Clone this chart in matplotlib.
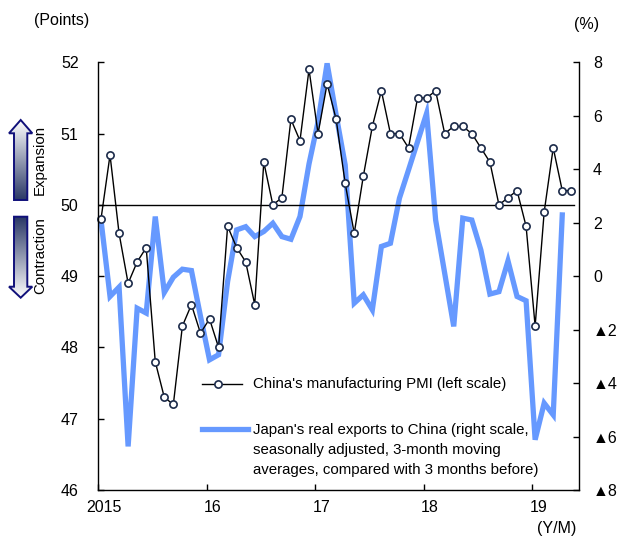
import matplotlib
matplotlib.use('Agg')
import matplotlib.pyplot as plt
import numpy as np
from matplotlib.patches import Polygon
from matplotlib.lines import Line2D
from matplotlib.colors import LinearSegmentedColormap

plt.rcParams['font.family'] = ['Liberation Sans', 'DejaVu Sans']

# ---- data (monthly, Jan 2015 onward) ----
year_labels = ["2015", "16", "17", "18", "19"]
pmi = [49.8, 50.7, 49.6, 48.9, 49.2, 49.4, 47.8, 47.3, 47.2, 48.3, 48.6, 48.2,
       48.4, 48.0, 49.7, 49.4, 49.2, 48.6, 50.6, 50.0, 50.1, 51.2, 50.9, 51.9,
       51.0, 51.7, 51.2, 50.3, 49.6, 50.4, 51.1, 51.6, 51.0, 51.0, 50.8, 51.5,
       51.5, 51.6, 51.0, 51.1, 51.1, 51.0, 50.8, 50.6, 50.0, 50.1, 50.2, 49.7,
       48.3, 49.9, 50.8, 50.2, 50.2]
exports = [2.1, -0.76, -0.41, -6.37, -1.2, -1.38, 2.23, -0.61, -0.04, 0.26, 0.21, -1.5,
           -3.13, -2.94, -0.2, 1.73, 1.85, 1.48, 1.67, 1.98, 1.48, 1.38, 2.23, 4.2,
           5.78, 7.96, 6.03, 4.16, -1.01, -0.7, -1.26, 1.11, 1.23, 2.92, 3.97, 5.03,
           6.09, 2.1, 0.11, -1.88, 2.17, 2.1, 0.98, -0.67, -0.58, 0.57, -0.76, -0.92,
           -6.12, -4.75, -5.19, 2.29]
left_ticks = [46, 47, 48, 49, 50, 51, 52]
right_ticks = [-8, -6, -4, -2, 0, 2, 4, 6, 8]
right_labels = ["▲8", "▲6", "▲4", "▲2", "0", "2", "4", "6", "8"]
pmi_label = "China's manufacturing PMI (left scale)"
exp_label_lines = ["Japan's real exports to China (right scale,",
                   "seasonally adjusted, 3-month moving",
                   "averages, compared with 3 months before)"]

BLUE = '#6699ff'
NAVY = '#1c2b4a'
W, H = 622, 538
FS_TICK = 11.5
FS_TXT = 10.8

fig = plt.figure(figsize=(W / 100, H / 100), dpi=100)
L, R, T, B = 98, 579, 62.3, 490
ax1 = fig.add_axes([L / W, 1 - B / H, (R - L) / W, (B - T) / H])
ax2 = ax1.twinx()
ax1.set_zorder(2)
ax1.patch.set_visible(False)
ax2.set_zorder(1)

x_pmi = np.arange(len(pmi))
x_exp = np.arange(len(exports))

ax2.plot(x_exp, exports, color=BLUE, lw=3.8, solid_joinstyle='miter', clip_on=False)
ax1.axhline(50, xmin=0, xmax=0.99, color='black', lw=1.0)
ax1.plot(x_pmi, pmi, color='black', lw=1.0, marker='o', markersize=5.2,
         markerfacecolor='white', markeredgecolor=NAVY, markeredgewidth=1.2, clip_on=False)

ax1.set_xlim(-0.33, 52.85)
ax1.set_ylim(46, 52)
ax2.set_ylim(-8, 8)

ax1.set_xticks([12 * k - 0.33 for k in range(len(year_labels))])
ax1.set_xticklabels([])
ax1.set_xticks([12 * k + 0.35 for k in range(len(year_labels))], minor=True)
ax1.set_xticklabels(year_labels, minor=True)
ax1.tick_params(axis='x', which='major', direction='in', length=4, width=1)
ax1.tick_params(axis='x', which='minor', length=0, pad=7, labelsize=FS_TICK)

ax1.set_yticks(left_ticks)
ax1.tick_params(axis='y', direction='in', length=4, width=1, pad=14, labelsize=FS_TICK)
ax2.set_yticks(right_ticks)
ax2.set_yticklabels(right_labels)
ax2.tick_params(axis='y', direction='in', length=4, width=1, pad=10, labelsize=FS_TICK)

for a in (ax1, ax2):
    a.spines['top'].set_visible(False)
    for s in a.spines.values():
        s.set_linewidth(1.0)
ax2.spines['left'].set_visible(False)
ax2.spines['bottom'].set_visible(False)
ax1.spines['right'].set_visible(False)

# ---- overlay for annotations (pixel coordinates) ----
ov = fig.add_axes([0, 0, 1, 1], zorder=3)
ov.set_xlim(0, W)
ov.set_ylim(H, 0)
ov.axis('off')
ov.patch.set_visible(False)

ov.text(61.5, 21, "(Points)", ha='center', va='center', fontsize=FS_TICK)
ov.text(587, 25, "(%)", ha='center', va='center', fontsize=FS_TICK)
ov.text(557, 529, "(Y/M)", ha='center', va='center', fontsize=FS_TICK)

# gradient arrows
cmap = LinearSegmentedColormap.from_list('g', ['#ffffff', '#2a3866'])
grad = np.linspace(0, 1, 256).reshape(-1, 1)

up = [(20.7, 120), (32.3, 133.3), (27.3, 133.3), (27.3, 200), (14, 200),
      (14, 133.3), (9, 133.3)]
ov.add_patch(Polygon(up, closed=True, facecolor='none', edgecolor='#10107a', lw=1.4, zorder=5))
im = ov.imshow(grad, cmap=cmap, extent=(9, 32.3, 200, 120), aspect='auto', zorder=4)
im.set_clip_path(Polygon(up, closed=True, transform=ov.transData))

dn = [(14, 216.7), (27.3, 216.7), (27.3, 286.7), (32.3, 286.7), (20.7, 297.7),
      (9, 286.7), (14, 286.7)]
ov.add_patch(Polygon(dn, closed=True, facecolor='none', edgecolor='#10107a', lw=1.4, zorder=5))
im2 = ov.imshow(grad[::-1], cmap=cmap, extent=(9, 32.3, 297.7, 216.7), aspect='auto', zorder=4)
im2.set_clip_path(Polygon(dn, closed=True, transform=ov.transData))
ov.set_xlim(0, W)
ov.set_ylim(H, 0)

ov.text(40, 160, "Expansion", rotation=90, ha='center', va='center', fontsize=FS_TXT)
ov.text(40, 256, "Contraction", rotation=90, ha='center', va='center', fontsize=FS_TXT)

# legend (manual)
ov.add_line(Line2D([202, 242], [383.5, 383.5], color='black', lw=1.0))
ov.add_line(Line2D([218.3], [383.5], marker='o', markersize=5.2, markerfacecolor='white',
                   markeredgecolor=NAVY, markeredgewidth=1.2, lw=0))
ov.text(253, 384, pmi_label, ha='left', va='center', fontsize=FS_TXT)
ov.add_line(Line2D([202, 248], [429.3, 429.3], color=BLUE, lw=3.8))
for i, line in enumerate(exp_label_lines):
    ov.text(253, 430 + 20 * i, line, ha='left', va='center', fontsize=FS_TXT)

fig.savefig('out.png', dpi=100)
